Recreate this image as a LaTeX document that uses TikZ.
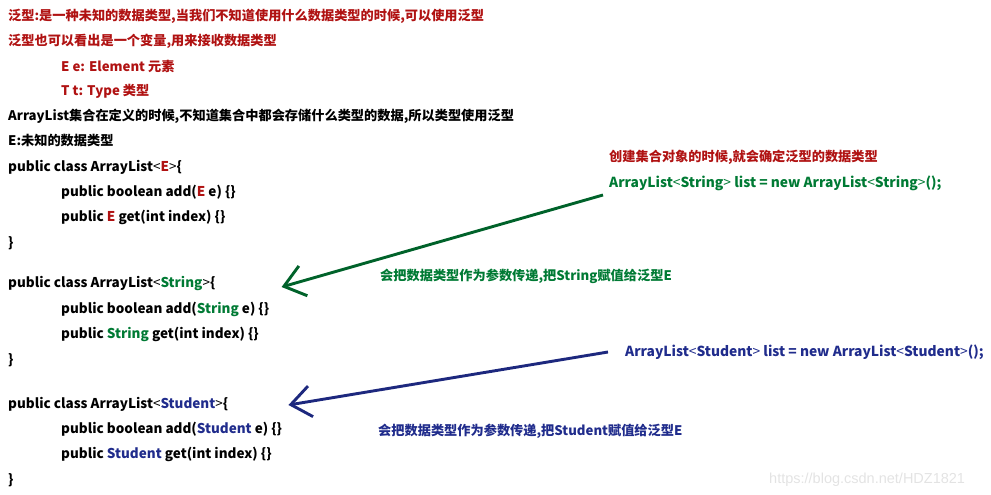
\documentclass[tikz,border=0pt]{standalone}
\usepackage{fontspec}
\setmainfont{Noto Sans CJK SC}
\newfontfamily\markfont{Liberation Sans}
\usetikzlibrary{arrows.meta}

\definecolor{genred}{RGB}{176,18,18}
\definecolor{gengreen}{RGB}{0,122,52}
\definecolor{genblue}{RGB}{32,44,140}
\newcommand\angL{{\mdseries<}}
\newcommand\angR{{\mdseries>}}

\begin{document}
\begin{tikzpicture}[x=1pt,y=-1pt,
  code/.style={anchor=west,inner sep=0pt,font=\bfseries\fontsize{13.5}{16}\selectfont},
  decl/.style={code,font=\bfseries\fontsize{13.8}{16}\selectfont},
  prose/.style={code,font=\bfseries\fontsize{13.2}{16}\selectfont},
  note/.style={prose,text=genred},
  wm/.style={anchor=west,inner sep=0pt,text=gray!22,font=\markfont\fontsize{14.5}{16}\selectfont},
  garrow/.style={draw=gengreen!80!black,line width=2.9pt,-{Straight Barb[length=20pt,width=31pt,line width=2.9pt]}},
  barrow/.style={draw=genblue!90!black,line width=2.9pt,-{Straight Barb[length=20pt,width=31pt,line width=2.9pt]}}]
\useasboundingbox (0,0) rectangle (991,495);
% what generics are
\node[note] (def) at (8,16) {泛型:是一种未知的数据类型,当我们不知道使用什么数据类型的时候,可以使用泛型};
\node[note] (var) at (8,41) {泛型也可以看出是一个变量,用来接收数据类型};
\node[note] (elem) at (61,66) {E e: Element 元素};
\node[note] (type) at (61,91) {T t: Type 类型};
\node[prose] (why) at (8,116) {ArrayList集合在定义的时候,不知道集合中都会存储什么类型的数据,所以类型使用泛型};
\node[prose] (unk) at (8,141) {E:未知的数据类型};
% the three class blocks
\foreach \ty/\col/\y/\id in {E/genred/167/e,String/gengreen/284/s,Student/genblue/404/u}{
  \node[code] (cls\id) at (8,\y) {public class ArrayList\angL{\color{\col}\ty}\angR\{};
  \node[code] (add\id) at (61,\y+25) {public boolean add({\color{\col}\ty} e) \{\}};
  \node[code] (get\id) at (61,\y+50) {public {\color{\col}\ty} get(int index) \{\}};
  \node[code] (end\id) at (8,\y+76) {\}};}
% creating objects
\node[note] (make) at (609,157) {创建集合对象的时候,就会确定泛型的数据类型};
\node[decl,text=gengreen] (sdecl) at (609,183) {ArrayList\angL String\angR{} list = new ArrayList\angL String\angR();};
\node[prose,text=gengreen] (spass) at (380,276) {会把数据类型作为参数传递,把String赋值给泛型E};
\node[decl,text=genblue] (udecl) at (625,352) {ArrayList\angL Student\angR{} list = new ArrayList\angL Student\angR();};
\node[prose,text=genblue] (upass) at (378,431) {会把数据类型作为参数传递,把Student赋值给泛型E};
\draw[garrow] ([xshift=-6pt,yshift=-12pt]sdecl.west) -- ([xshift=66pt,yshift=-3pt]clss.east);
\draw[barrow] ([xshift=-17pt]udecl.west) -- ([xshift=60pt,yshift=-1pt]clsu.east);
\node[wm] (mark) at (769,480) {https://blog.csdn.net/HDZ1821};
\end{tikzpicture}
\end{document}
